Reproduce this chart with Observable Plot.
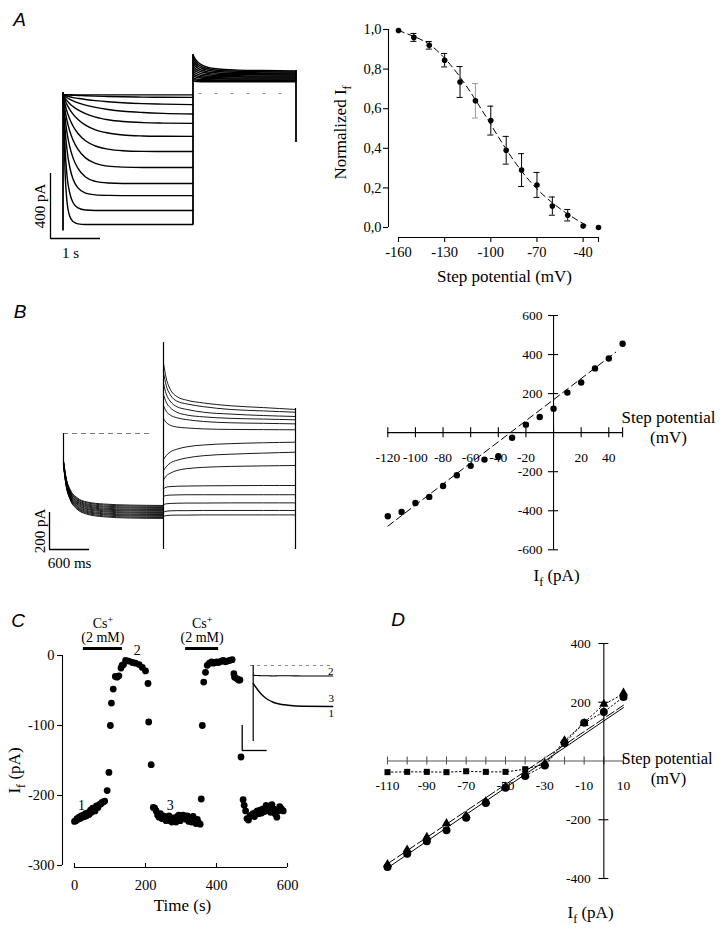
<!DOCTYPE html>
<html lang="en">
<head>
<meta charset="utf-8">
<title>If recordings</title>
<script src="https://cdn.jsdelivr.net/npm/d3@7"></script>
<script src="https://cdn.jsdelivr.net/npm/@observablehq/plot@0.6"></script>
<style>
  html, body { margin: 0; padding: 0; background: #fff; }
  #fig { position: relative; width: 721px; height: 935px; overflow: hidden; background: #fff; }
  #fig > svg { position: absolute; left: 0; top: 0; }
</style>
</head>
<body>
<div id="fig"></div>
<script>
// ======================= DATA =======================
// ---- Panel A, left: current traces (s, pA) ----
const aStepTimes = [0, 0.04, 0.08, 0.13, 0.2, 0.3, 0.45, 0.65, 0.9, 1.2, 1.6, 2.0, 2.6];
const aStepTraces = [
  [0, -1, -1, -1, -2, -2, -2, -2, -2, -2, -2, -2, -2],
  [0, -2, -3, -4, -5, -6, -8, -10, -12, -14, -16, -17, -18],
  [0, -6, -10, -14, -19, -24, -31, -38, -45, -51, -56, -59, -62],
  [0, -12, -20, -29, -39, -51, -65, -79, -92, -103, -111, -116, -120],
  [0, -22, -38, -55, -74, -95, -118, -139, -155, -166, -173, -176, -178],
  [0, -35, -62, -90, -121, -154, -189, -218, -237, -249, -255, -257, -258],
  [0, -60, -104, -148, -194, -240, -285, -317, -336, -346, -350, -351, -351],
  [0, -95, -160, -220, -280, -338, -390, -424, -441, -447, -449, -449, -449],
  [0, -140, -235, -315, -390, -455, -508, -535, -545, -548, -548, -548, -548],
  [0, -210, -340, -440, -520, -575, -607, -618, -621, -622, -622, -622, -622],
  [0, -320, -500, -600, -665, -698, -711, -714, -714, -714, -714, -714, -714],
  [0, -470, -660, -745, -782, -796, -800, -800, -800, -800, -800, -800, -800]
];
const aTailTimes = [2.6, 2.64, 2.7, 2.78, 2.9, 3.1, 3.5, 4.0, 4.66];
const aTailTraces = [
  [85, 82, 80, 79, 78, 78, 78, 78, 78],
  [95, 90, 87, 85, 84, 84, 84, 84, 84],
  [105, 98, 94, 92, 91, 90, 90, 90, 90],
  [118, 110, 104, 100, 98, 97, 96, 96, 96],
  [130, 121, 113, 108, 105, 103, 102, 102, 102],
  [145, 134, 124, 117, 112, 110, 109, 108, 108],
  [160, 147, 136, 127, 121, 117, 115, 114, 114],
  [178, 162, 148, 138, 130, 125, 122, 121, 120],
  [195, 177, 161, 149, 139, 133, 129, 127, 126],
  [212, 192, 174, 160, 149, 141, 136, 133, 132],
  [228, 206, 186, 170, 158, 149, 143, 140, 138],
  [245, 220, 198, 181, 167, 157, 150, 147, 145]
];
const aArtifacts = [{t: 0, top: 12, bottom: -840}, {t: 2.6, top: 245, bottom: -800}, {t: 4.66, top: 148, bottom: -295}];
const aHolding = [{t0: 2.72, t1: 4.55, i: 6}];
const aScaleBar = [{t: -0.25, i: -886, dt: 1, di: 400, tLabel: "1 s", iLabel: "400 pA"}];

// ---- Panel A, right: activation curve ----
const aV = [-160, -150, -140, -130, -120, -110, -100, -90, -80, -70, -60, -50, -40, -30];
const aNorm = [0.995, 0.96, 0.92, 0.845, 0.735, 0.64, 0.54, 0.39, 0.29, 0.215, 0.108, 0.062, 0.007, 0.0];
const aSem = [0, 0.02, 0.019, 0.034, 0.078, 0.087, 0.073, 0.07, 0.083, 0.063, 0.046, 0.029, 0.005, 0];
const aFitV = [-160, -150, -140, -130, -120, -110, -100, -90, -80, -70, -60, -50, -40, -37];
const aFitN = [0.995, 0.965, 0.925, 0.855, 0.76, 0.645, 0.52, 0.395, 0.285, 0.195, 0.125, 0.068, 0.02, 0.008];
const aYTicks = [0, 0.2, 0.4, 0.6, 0.8, 1.0];
const aXTicks = [-160, -130, -100, -70, -40];

// ---- Panel B, left: traces (ms, pA) ----
const bSeg1Times = [0, 40, 100, 200, 350, 600, 1000, 1500];
const bSeg1Traces = [
  [-148, -241, -303, -346, -370, -381, -387, -389],
  [-150, -244, -307, -351, -374, -386, -392, -394],
  [-152, -248, -312, -356, -380, -392, -398, -400],
  [-154, -251, -316, -360, -385, -397, -403, -405],
  [-156, -255, -321, -366, -390, -403, -409, -411],
  [-158, -258, -324, -370, -395, -408, -414, -416],
  [-160, -261, -328, -375, -400, -413, -419, -421],
  [-162, -265, -333, -380, -406, -418, -425, -427],
  [-164, -268, -337, -384, -410, -423, -430, -432],
  [-166, -272, -342, -390, -416, -429, -436, -438],
  [-168, -275, -346, -394, -421, -434, -441, -443],
  [-170, -278, -349, -399, -426, -439, -446, -448],
  [-173, -281, -354, -404, -431, -445, -452, -454],
  [-174, -285, -358, -408, -436, -450, -457, -459]
];
const bSeg2Times = [1500, 1540, 1600, 1700, 1850, 2100, 2500, 3000, 3480];
const bSeg2Traces = [
  [380, 300, 240, 200, 180, 165, 150, 140, 130],
  [330, 260, 210, 175, 160, 145, 130, 122, 115],
  [270, 215, 175, 145, 130, 115, 105, 97, 92],
  [210, 170, 140, 115, 100, 90, 82, 78, 74],
  [150, 120, 100, 85, 75, 65, 58, 55, 52],
  [80, 60, 45, 35, 30, 25, 22, 21, 20],
  [-140, -120, -100, -85, -72, -62, -55, -50, -47],
  [-200, -180, -160, -145, -132, -120, -112, -106, -101],
  [-250, -230, -215, -200, -190, -183, -178, -175, -173],
  [-300, -290, -287, -285, -284, -283, -282, -281, -281],
  [-340, -335, -333, -332, -331, -331, -331, -331, -331],
  [-385, -380, -378, -377, -376, -376, -375, -375, -375],
  [-425, -420, -418, -417, -417, -416, -416, -416, -416],
  [-448, -444, -442, -441, -441, -440, -440, -440, -440]
];
const bArtifacts = [{t: 0, top: 0, bottom: -174}, {t: 1500, top: 492, bottom: -627}, {t: 3480, top: 135, bottom: -627}];
const bHolding = [{t0: 0, t1: 1350, i: 0}];
const bScaleBar = [{t: -210, i: -627, dt: 600, di: 200, tLabel: "600 ms", iLabel: "200 pA"}];

// ---- Panel B, right: I-V relation ----
const bV = [-120, -110, -100, -90, -80, -70, -60, -50, -40, -30, -20, -10, 0, 10, 20, 30, 40, 50];
const bI = [-428, -406, -360, -329, -273, -218, -170, -138, -121, -26, 41, 80, 123, 205, 257, 329, 380, 455];
const bFitV = [-120, 45];
const bFitI = [-479, 412];
const bXTicks = [-120, -100, -80, -60, -40, -20, 0, 20, 40, 50];
const bXLabels = [-120, -100, -80, -60, -40, -20, 20, 40];
const bYTicks = [-600, -400, -200, 200, 400, 600];

// ---- Panel C: time course (s, pA) ----
const cTime = [0,4,7,10,13,16,19,22,25,28,31,34,37,41,45,48,51,55,58,62,66,70,74,78,82,85,
  92,97,101,104,109,115,120,125,131,134,138,144,153,163,172,182,191,200,207,209,216,
  222,226,230,234,238,242,246,250,254,258,262,266,270,274,278,282,286,290,294,298,302,306,310,314,318,322,326,330,334,338,342,346,350,354,
  357,360,364,369,374,380,386,391,397,401,405,410,414,419,425,431,437,444,449,451,457,462,466,469,475,478,
  482,486,490,494,498,503,507,511,515,519,523,527,531,535,540,544,548,552,556,561,565,570,574,578,583,588];
const cCurrent = [-237,-236,-233,-234,-231,-233,-229,-231,-228,-230,-226,-229,-225,-227,-221,-224,-218,-219,-222,-215,-217,-213,-212,-210,-209,-208,
  -193,-167,-100,-68,-48,-30,-31,-29,-18,-14,-13,-7,-8,-10,-11,-13,-17,-22,-40,-95,-156,
  -217,-218,-222,-228,-231,-226,-233,-229,-231,-236,-233,-229,-236,-238,-232,-235,-238,-230,-228,-236,-232,-228,-231,-234,-229,-237,-233,-238,-230,-236,-240,-234,-239,-241,
  -205,-100,-38,-24,-14,-11,-9,-11,-10,-9,-10,-9,-8,-7,-9,-8,-7,-6,-26,-31,-33,-35,-35,-145,-206,-214,
  -222,-233,-235,-230,-228,-226,-230,-224,-222,-226,-221,-225,-219,-223,-214,-221,-218,-224,-213,-219,-226,-231,-222,-216,-219,-222];
const cCsBars = [{t0: 25, t1: 135}, {t0: 313, t1: 406}];
const cXTicks = [0, 200, 400, 600];
const cYTicks = [0, -100, -200, -300];
// inset traces (ms, pA)
const cInsetTimes = [0, 50, 100, 150, 200, 300, 400, 500, 700, 1000, 1590];
const cInsetTrace13 = [-72, -86, -100, -112, -122, -137, -147, -153, -159, -163, -164];
const cInsetTrace2 = [-38, -40, -40, -41, -41, -41, -42, -41, -41, -42, -42];
const cInsetHolding = [{t0: -54, t1: 1590, i: 0}];
const cInsetArtifact = [{t: 0, top: 0, bottom: -304}];
const cInsetScaleBar = [{t: -220, i: -340, dt: 500, di: 100}];

// ---- Panel D: I-V in control, Cs+, wash ----
const dV = [-110, -100, -90, -80, -70, -60, -50, -40, -30, -20, -10, 0, 10];
const dControl = [-361, -316, -273, -236, -193, -143, -91, -51, -15, 61, 130, 167, 218];
const dWash = [-352, -302, -259, -212, -186, -137, -88, -46, -9, 70, 128, 194, 232];
const dCs = [-38, -37, -37, -38, -35, -37, -37, -28, -10, 68, 131, 192, 229];
const dFitSolidV = [-110, 10], dFitSolidI = [-364, 182];
const dFitDashedV = [-110, 10], dFitDashedI = [-350, 190];
const dXTicks = [-110, -100, -90, -80, -70, -60, -50, -40, -30, -20, -10, 0, 10];
const dXLabels = [-110, -90, -70, -50, -30, -10, 10];
const dYTicks = [-400, -200, 200, 400];

// ======================= HELPERS =======================
const W = 721, H = 935;
const INK = "#000";
const SERIF = "'Liberation Serif', 'Times New Roman', serif";
const STYLE = "background: transparent; overflow: visible; font-family: 'Liberation Serif', 'Times New Roman', serif; position: absolute; left: 0; top: 0;";

function panel(xd, xp, yd, yp, marks) {
  return Plot.plot({
    width: W, height: H,
    marginLeft: xp[0], marginRight: W - xp[1],
    marginBottom: H - yp[0], marginTop: yp[1],
    x: {domain: xd, axis: null},
    y: {domain: yd, axis: null},
    style: STYLE,
    marks
  });
}
function txt(data, o) { return Plot.text(data, {fontFamily: SERIF, fill: INK, ...o}); }
function xTicks(values, yv, up, down, o = {}) {
  return Plot.ruleX(values, {x: d => d, y1: () => yv, y2: () => yv, insetTop: -up, insetBottom: -down, stroke: INK, strokeWidth: 1.1, ...o});
}
function yTicks(values, xv, left, right, o = {}) {
  return Plot.ruleY(values, {y: d => d, x1: () => xv, x2: () => xv, insetLeft: -left, insetRight: -right, stroke: INK, strokeWidth: 1.1, ...o});
}
function traces(times, arrays, prefix) {
  const out = [];
  arrays.forEach((vals, k) => vals.forEach((v, j) => out.push({z: prefix + k, t: times[j], i: v})));
  return out;
}
function pairs(xs, ys) { return xs.map((v, j) => ({v, i: ys[j]})); }
// sub/superscripts: "_f" -> subscript f, "^+" -> superscript +
function scripts(svg) {
  d3.select(svg).selectAll("text").each(function () {
    const s = this.textContent;
    const m = s.match(/[_^]/);
    if (!m) return;
    const k = m.index, kind = s[k];
    const before = s.slice(0, k), sc = s[k + 1], after = s.slice(k + 2);
    const fs = parseFloat(this.getAttribute("font-size") || d3.select(this.parentNode).attr("font-size") || 14);
    const shift = (kind === "_" ? 0.28 : -0.38) * fs;
    const el = d3.select(this);
    el.text(null);
    el.append("tspan").text(before);
    el.append("tspan").attr("dy", shift).attr("font-size", 0.72 * fs).text(sc);
    if (after) el.append("tspan").attr("dy", -shift).text(after);
  });
}

// ======================= PANELS =======================
const svgs = [];

// A left
svgs.push(panel([0, 5], [62.5, 312.5], [-1000, 400], [256.5, 29], [
  Plot.ruleY(aHolding, {y: "i", x1: "t0", x2: "t1", stroke: "#8a8a8a", strokeDasharray: "3,13"}),
  Plot.line(traces(aStepTimes, aStepTraces, "s"), {x: "t", y: "i", z: "z", curve: "monotone-x", stroke: INK, strokeWidth: 1.4}),
  Plot.line(traces(aTailTimes, aTailTraces, "t"), {x: "t", y: "i", z: "z", curve: "monotone-x", stroke: INK, strokeWidth: 1.5}),
  Plot.ruleX(aArtifacts, {x: "t", y1: "top", y2: "bottom", stroke: INK, strokeWidth: 1.8}),
  Plot.ruleX(aScaleBar, {x: "t", y1: "i", y2: d => d.i + d.di, stroke: INK, strokeWidth: 1.3}),
  Plot.ruleY(aScaleBar, {y: "i", x1: "t", x2: d => d.t + d.dt, stroke: INK, strokeWidth: 1.3}),
  txt(aScaleBar, {x: "t", y: d => d.i + d.di / 2, text: "iLabel", rotate: -90, dx: -10, fontSize: 15}),
  txt(aScaleBar, {x: d => d.t + d.dt * 0.4, y: "i", text: "tLabel", dy: 15, fontSize: 15})
]));

// A right
const aData = aV.map((v, j) => ({v, n: aNorm[j], e: aSem[j]}));
const aErr = aData.filter(d => d.e > 0.01);
svgs.push(panel([-160, -30], [398, 598], [0, 1], [227, 29], [
  Plot.ruleX([-160], {x: d => d, y1: () => 0, y2: () => 1, dx: -10, stroke: INK, strokeWidth: 1.1}),
  yTicks(aYTicks, -160, 5, 0, {dx: -10}),
  txt(aYTicks, {x: () => -160, y: d => d, text: d => d.toFixed(1).replace(".", ","), textAnchor: "end", dx: -17, fontSize: 14.5}),
  Plot.ruleY([0], {y: d => d, x1: () => -160, x2: () => -30, dy: 10, stroke: INK, strokeWidth: 1.1}),
  xTicks([...aXTicks, -30], 0, 0, 5, {dy: 10}),
  txt(aXTicks, {x: d => d, y: () => 0, text: d => String(d), dy: 25, fontSize: 14.5}),
  Plot.line(pairs(aFitV, aFitN), {x: "v", y: "i", curve: "natural", stroke: INK, strokeWidth: 1, strokeDasharray: "6,4"}),
  Plot.ruleX(aErr, {x: "v", y1: d => d.n - d.e, y2: d => d.n + d.e, stroke: d => d.v === -110 ? "#999" : INK, strokeDasharray: d => d.v === -110 ? "2,2" : null, strokeWidth: 1}),
  Plot.ruleY(aErr, {y: d => d.n + d.e, x1: "v", x2: "v", insetLeft: -3, insetRight: -3, stroke: d => d.v === -110 ? "#999" : INK, strokeWidth: 1}),
  Plot.ruleY(aErr, {y: d => d.n - d.e, x1: "v", x2: "v", insetLeft: -3, insetRight: -3, stroke: d => d.v === -110 ? "#999" : INK, strokeWidth: 1}),
  Plot.dot(aData, {x: "v", y: "n", r: 2.8, fill: INK})
]));

// B left
svgs.push(panel([0, 3600], [63, 303], [-700, 700], [562.5, 303.5], [
  Plot.ruleY(bHolding, {y: "i", x1: "t0", x2: "t1", stroke: "#777", strokeDasharray: "5,4", strokeWidth: 1}),
  Plot.line(traces(bSeg1Times, bSeg1Traces, "a"), {x: "t", y: "i", z: "z", curve: "monotone-x", stroke: INK, strokeWidth: 0.9}),
  Plot.line(traces(bSeg2Times, bSeg2Traces, "b"), {x: "t", y: "i", z: "z", curve: "monotone-x", stroke: INK, strokeWidth: 0.9}),
  Plot.ruleX(bArtifacts, {x: "t", y1: "top", y2: "bottom", stroke: INK, strokeWidth: 1.2}),
  Plot.ruleX(bScaleBar, {x: "t", y1: "i", y2: d => d.i + d.di, stroke: INK, strokeWidth: 1.3}),
  Plot.ruleY(bScaleBar, {y: "i", x1: "t", x2: d => d.t + d.dt, stroke: INK, strokeWidth: 1.3}),
  txt(bScaleBar, {x: "t", y: d => d.i + d.di / 2, text: "iLabel", rotate: -90, dx: -9, fontSize: 15}),
  txt(bScaleBar, {x: d => d.t + d.dt / 2, y: "i", text: "tLabel", dy: 14, fontSize: 15})
]));

// B right
svgs.push(panel([-120, 50], [387.3, 622.1], [-600, 600], [549.3, 315], [
  Plot.ruleY([0], {y: d => d, x1: () => -120, x2: () => 50, stroke: INK, strokeWidth: 1.1}),
  xTicks(bXTicks, 0, 5, 5),
  txt(bXLabels, {x: d => d, y: () => 0, text: d => String(d), dy: 25, fontSize: 13.5}),
  Plot.ruleX([0], {x: d => d, y1: () => -600, y2: () => 600, stroke: INK, strokeWidth: 1.1}),
  yTicks(bYTicks, 0, 5, 5),
  txt(bYTicks, {x: () => 0, y: d => d, text: d => String(d), textAnchor: "end", dx: -11, fontSize: 13.5}),
  Plot.line(pairs(bFitV, bFitI), {x: "v", y: "i", stroke: INK, strokeWidth: 1, strokeDasharray: "7,4"}),
  Plot.dot(pairs(bV, bI), {x: "v", y: "i", r: 3.2, fill: INK})
]));

// C main
const cData = cTime.map((t, j) => ({t, i: cCurrent[j]}));
svgs.push(panel([0, 600], [74, 287], [-300, 0], [865, 655], [
  Plot.ruleX([0], {x: d => d, y1: () => -300, y2: () => 0, dx: -12, stroke: INK, strokeWidth: 1.1}),
  yTicks(cYTicks, 0, 5, 0, {dx: -12}),
  txt(cYTicks, {x: () => 0, y: d => d, text: d => String(d), textAnchor: "end", dx: -20, fontSize: 14.5}),
  Plot.ruleY([-300], {y: d => d, x1: () => 0, x2: () => 600, dy: 2, stroke: INK, strokeWidth: 1.1}),
  xTicks(cXTicks, -300, 4, 0, {dy: 2}),
  txt(cXTicks, {x: d => d, y: () => -300, text: d => String(d), dy: 20, fontSize: 14.5}),
  Plot.ruleY(cCsBars, {y: () => 0, x1: "t0", x2: "t1", dy: -7, stroke: INK, strokeWidth: 3}),
  txt(cCsBars, {x: d => (d.t0 + d.t1) / 2, y: () => 0, text: () => "Cs^+", dy: -32, fontSize: 14}),
  txt(cCsBars, {x: d => (d.t0 + d.t1) / 2, y: () => 0, text: () => "(2 mM)", dy: -18, fontSize: 14}),
  txt(["1"], {x: () => 20, y: () => -214, text: d => d, fontSize: 14}),
  txt(["2"], {x: () => 177, y: () => 7, text: d => d, fontSize: 14}),
  txt(["3"], {x: () => 270, y: () => -214, text: d => d, fontSize: 14}),
  Plot.dot(cData, {x: "t", y: "i", r: 3.4, fill: INK})
]));

// C inset
svgs.push(panel([0, 1600], [252.7, 332.7], [-350, 0], [752.5, 665], [
  Plot.ruleY(cInsetHolding, {y: "i", x1: "t0", x2: "t1", stroke: "#888", strokeDasharray: "3,4", strokeWidth: 1}),
  Plot.line(pairs(cInsetTimes, cInsetTrace2), {x: "v", y: "i", curve: "monotone-x", stroke: INK, strokeWidth: 1.2}),
  Plot.line(pairs(cInsetTimes, cInsetTrace13), {x: "v", y: "i", curve: "monotone-x", stroke: INK, strokeWidth: 1.4}),
  Plot.ruleX(cInsetArtifact, {x: "t", y1: "top", y2: "bottom", stroke: INK, strokeWidth: 1.2}),
  Plot.ruleX(cInsetScaleBar, {x: "t", y1: "i", y2: d => d.i + d.di, stroke: INK, strokeWidth: 1.3}),
  Plot.ruleY(cInsetScaleBar, {y: "i", x1: "t", x2: d => d.t + d.dt, stroke: INK, strokeWidth: 1.3}),
  txt(["2"], {x: () => 1550, y: () => -24, text: d => d, fontSize: 11}),
  txt(["3"], {x: () => 1560, y: () => -132, text: d => d, fontSize: 11}),
  txt(["1"], {x: () => 1560, y: () => -192, text: d => d, fontSize: 11})
]));

// D
const dCtrl = pairs(dV, dControl), dW = pairs(dV, dWash), dC = pairs(dV, dCs);
svgs.push(panel([-110, 10], [387, 623], [-400, 400], [878, 643], [
  Plot.ruleY([0], {y: d => d, x1: () => -110, x2: () => 10, stroke: "#555", strokeWidth: 1.1}),
  xTicks(dXTicks, 0, 4, 4, {stroke: "#555"}),
  txt(dXLabels, {x: d => d, y: () => 0, text: d => String(d), dy: 25, fontSize: 13.5}),
  Plot.ruleX([0], {x: d => d, y1: () => -400, y2: () => 400, stroke: INK, strokeWidth: 1.1}),
  yTicks(dYTicks, 0, 5, 5),
  txt(dYTicks, {x: () => 0, y: d => d, text: d => String(d), textAnchor: "end", dx: -13, fontSize: 13.5}),
  Plot.line(pairs(dFitSolidV, dFitSolidI), {x: "v", y: "i", stroke: INK, strokeWidth: 1}),
  Plot.line(pairs(dFitDashedV, dFitDashedI), {x: "v", y: "i", stroke: INK, strokeWidth: 1, strokeDasharray: "9,3"}),
  Plot.line(dC, {x: "v", y: "i", stroke: INK, strokeWidth: 1, strokeDasharray: "1.5,2.5"}),
  Plot.line(dCtrl.filter(d => d.v >= -40), {x: "v", y: "i", stroke: INK, strokeWidth: 1, strokeDasharray: "1.5,2.5"}),
  Plot.dot(dC.filter(d => d.v <= -40), {x: "v", y: "i", symbol: "square", r: 3.4, fill: INK}),
  Plot.dot(dCtrl, {x: "v", y: "i", r: 4, fill: INK}),
  Plot.dot(dW, {x: "v", y: "i", symbol: "triangle", r: 3.4, fill: INK})
]));

// Annotation layer (panel letters, axis titles), page pixel coordinates
const letter = (t, x, y) => Plot.text([t], {x: () => x, y: () => y, text: d => d, fontSize: 19, fontStyle: "italic", fill: INK, fontFamily: "'Liberation Sans', Arial, sans-serif"});
const title = (t, x, y, o = {}) => txt([t], {x: () => x, y: () => y, text: d => d, fontSize: 17, ...o});
svgs.push(Plot.plot({
  width: W, height: H, margin: 0,
  x: {domain: [0, W], axis: null}, y: {domain: [H, 0], axis: null},
  style: STYLE,
  marks: [
    letter("A", 19, 19), letter("B", 19.5, 311), letter("C", 17.5, 620), letter("D", 397.5, 619.5),
    title("Normalized I_f", 340, 132, {rotate: -90}),
    title("Step potential (mV)", 504, 276),
    title("Step potential", 621, 417, {textAnchor: "start"}),
    title("(mV)", 668, 437),
    title("I_f (pA)", 556, 575),
    title("I_f (pA)", 14, 770, {rotate: -90}),
    title("Time (s)", 182, 905),
    title("Step potential", 621, 758, {textAnchor: "start", fontSize: 16.5}),
    title("(mV)", 668, 778, {fontSize: 16.5}),
    title("I_f (pA)", 590, 912)
  ]
}));

const fig = document.getElementById("fig");
svgs.forEach(s => { scripts(s); fig.appendChild(s); });
</script>
</body>
</html>
